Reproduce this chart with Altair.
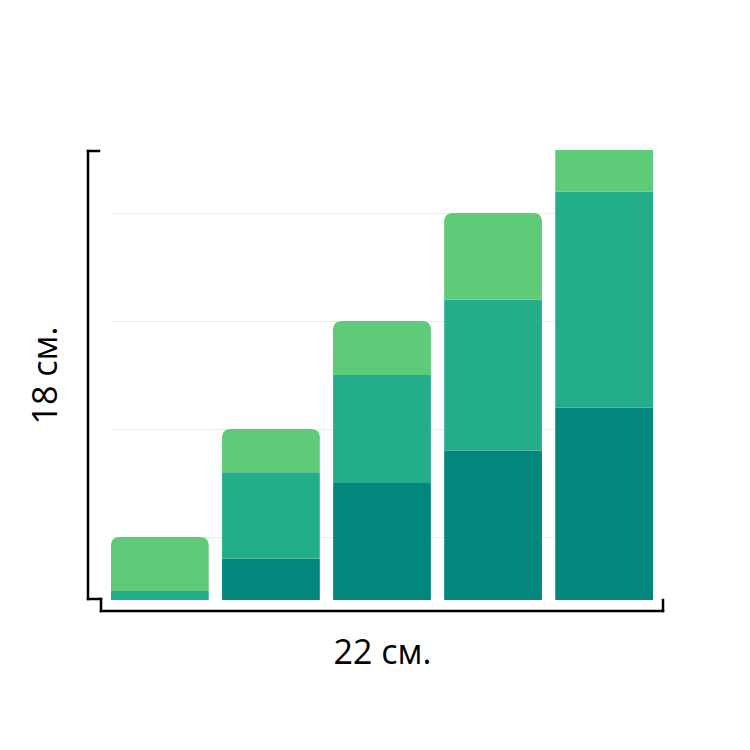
import altair as alt
import pandas as pd

categories = ["1", "2", "3", "4", "5"]
series = ["dark", "medium", "light"]
dark = [0.4, 0.8, 1.5, 1.8, 2.2]
medium = [0.1, 0.8, 1.0, 1.4, 2.0]
light = [0.5, 0.4, 0.5, 0.8, 0.8]
colors = ["#03877d", "#22ae8a", "#5dcb78"]
x_title = "22 см."
y_title = "18 см."
grid_values = [1, 2, 3, 4]

rows = []
for i, c in enumerate(categories):
    for j, (s, vals) in enumerate(zip(series, [dark, medium, light])):
        rows.append({"cat": c, "series": s, "order": j, "value": vals[i]})
df = pd.DataFrame(rows)

W, H = 542, 450
ydom = [0.4167, 4.5833]

xenc = alt.X("cat:N", sort=categories,
             scale=alt.Scale(paddingInner=0.12, paddingOuter=0),
             axis=alt.Axis(labels=False, ticks=False, domain=False, grid=False,
                           title=x_title, titleFont="Open Sans", titleFontSize=34,
                           titleFontWeight="normal", titleColor="black",
                           titleBaseline="alphabetic", titlePadding=63))
yscale = alt.Scale(domain=ydom, nice=False, zero=False)
yaxis = alt.Axis(labels=False, ticks=False, domain=False, grid=True,
                 values=grid_values, gridColor="#ebebeb", gridWidth=1,
                 title=y_title, titleFont="Open Sans", titleFontSize=34,
                 titleFontWeight="normal", titleColor="black",
                 titleBaseline="alphabetic", titlePadding=55)
cenc = alt.Color("series:N", scale=alt.Scale(domain=series, range=colors), legend=None)

base = alt.Chart(df).transform_stack(
    stack="value", groupby=["cat"], as_=["y0", "y1"],
    sort=[alt.SortField("order", order="ascending")])

lower = base.transform_filter(alt.datum.order < 2).mark_bar(clip=True).encode(
    x=xenc, y=alt.Y("y1:Q", scale=yscale, axis=yaxis), y2="y0:Q", color=cenc)
upper = base.transform_filter(alt.datum.order == 2).mark_bar(
    clip=True, cornerRadiusTopLeft=8, cornerRadiusTopRight=8).encode(
    x=xenc, y=alt.Y("y1:Q", scale=yscale, axis=yaxis), y2="y0:Q", color=cenc)

one = pd.DataFrame({"k": [0]})


def rule(x1, x2, y1, y2):
    return alt.Chart(one).mark_rule(color="black", strokeWidth=2.5, strokeCap="square").encode(
        x=alt.value(x1), x2=alt.value(x2), y=alt.value(y1), y2=alt.value(y2))


brackets = [
    rule(-23, -23, 1, 449),
    rule(-23, -12, 1, 1),
    rule(-23, -10, 449, 449),
    rule(-10, -10, 449, 461),
    rule(-10, 552, 461, 461),
    rule(552, 552, 450, 461),
]

chart = alt.layer(lower, upper, *brackets).properties(
    width=W, height=H,
    autosize=alt.AutoSizeParams(type="none"),
    padding={"left": 103, "top": 142, "right": 80, "bottom": 100},
).configure_view(stroke=None)

chart.save("out.html", embed_options={"renderer": "svg", "actions": False})
